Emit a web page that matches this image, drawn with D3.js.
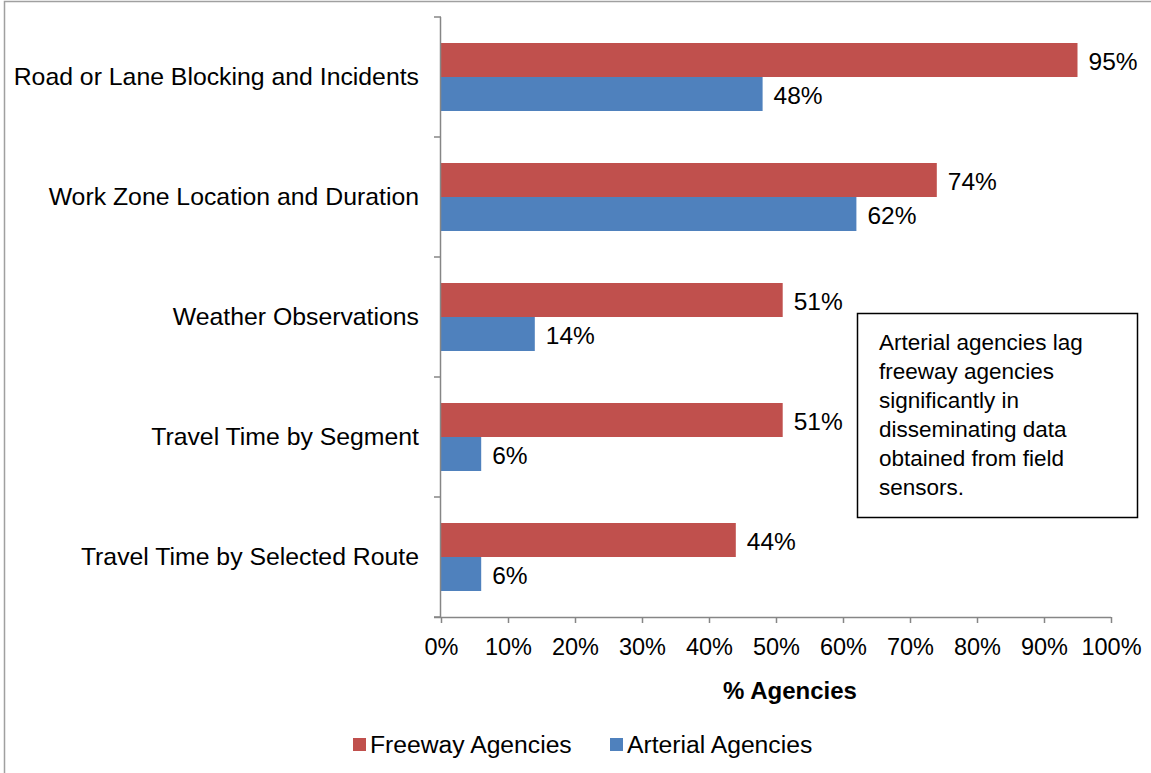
<!DOCTYPE html>
<html>
<head>
<meta charset="utf-8">
<script src="https://cdn.jsdelivr.net/npm/d3@7"></script>
<style>
  body { margin: 0; background: #fff; }
  svg { display: block; font-family: Arial, "Liberation Sans", sans-serif; }
  .axis path, .axis line { stroke: #868686; }
</style>
</head>
<body>
<svg width="1151" height="773"></svg>
<script>
(function() {

  var categories = [
    "Road or Lane Blocking and Incidents",
    "Work Zone Location and Duration",
    "Weather Observations",
    "Travel Time by Segment",
    "Travel Time by Selected Route"
  ];
  var seriesNames = ["Freeway Agencies", "Arterial Agencies"];
  var freeway = [95, 74, 51, 51, 44];
  var arterial = [48, 62, 14, 6, 6];
  var xTicks = [0, 10, 20, 30, 40, 50, 60, 70, 80, 90, 100];
  var noteLines = [
    "Arterial agencies lag",
    "freeway agencies",
    "significantly in",
    "disseminating data",
    "obtained from field",
    "sensors."
  ];

  var colors = { "Freeway Agencies": "#C0504D", "Arterial Agencies": "#4F81BD" };

  var margin = { top: 17, right: 40, bottom: 156, left: 441 },
      chartWidth = 1111 - margin.left,
      chartHeight = 617 - margin.top;

  var svg = d3.select("svg");

  // outer chart border
  svg.append("rect")
    .attr("x", 4.5).attr("y", 1.5)
    .attr("width", 1160).attr("height", 790)
    .attr("fill", "none")
    .attr("stroke", "#a0a0a0")
    .attr("stroke-width", 1.5);

  var chart = svg.append("g")
    .attr("transform", "translate(" + margin.left + "," + margin.top + ")");

  var xScale = d3.scaleLinear().domain([0, 100]).range([0, chartWidth]);

  var yScale = d3.scaleBand()
    .domain(categories)
    .range([0, chartHeight]);

  var inner = d3.scaleBand()
    .domain(seriesNames)
    .range([26, yScale.bandwidth() - 26]);

  var rows = categories.map(function(c, i) {
    return { cat: c, values: [
      { name: seriesNames[0], v: freeway[i] },
      { name: seriesNames[1], v: arterial[i] }
    ]};
  });

  var groups = chart.selectAll(".row")
    .data(rows)
    .enter().append("g")
      .attr("class", "row")
      .attr("transform", function(d) { return "translate(0," + yScale(d.cat) + ")"; });

  groups.selectAll("rect")
    .data(function(d) { return d.values; })
    .enter().append("rect")
      .attr("x", 0)
      .attr("y", function(d) { return inner(d.name); })
      .attr("width", function(d) { return xScale(d.v); })
      .attr("height", inner.bandwidth())
      .attr("fill", function(d) { return colors[d.name]; });

  groups.selectAll(".val")
    .data(function(d) { return d.values; })
    .enter().append("text")
      .attr("class", "val")
      .attr("x", function(d) { return xScale(d.v) + 11; })
      .attr("y", function(d) { return inner(d.name) + inner.bandwidth() / 2 + 1.5; })
      .attr("dy", "0.35em")
      .attr("font-size", 24.5)
      .attr("fill", "#000")
      .text(function(d) { return d.v + "%"; });

  // y axis
  var yAxis = chart.append("g")
    .attr("class", "axis")
    .call(d3.axisLeft(yScale).tickSize(0).tickPadding(22));
  yAxis.select(".domain").remove();
  yAxis.selectAll("text").attr("font-size", 24.8).attr("fill", "#000");

  chart.append("line")
    .attr("x1", -0.5).attr("x2", -0.5)
    .attr("y1", 0).attr("y2", chartHeight)
    .attr("stroke", "#868686").attr("stroke-width", 1.5);

  chart.selectAll(".ytick")
    .data(categories.concat([null]))
    .enter().append("line")
      .attr("class", "ytick")
      .attr("x1", -7).attr("x2", 0)
      .attr("y1", function(d, i) { return i * yScale.step(); })
      .attr("y2", function(d, i) { return i * yScale.step(); })
      .attr("stroke", "#868686").attr("stroke-width", 1.5);

  // x axis
  var xAxis = chart.append("g")
    .attr("class", "axis")
    .attr("transform", "translate(0," + chartHeight + ")")
    .call(d3.axisBottom(xScale)
      .tickValues(xTicks)
      .tickSize(6)
      .tickSizeOuter(0)
      .tickPadding(15)
      .tickFormat(function(d) { return d + "%"; }));
  xAxis.select(".domain")
    .attr("d", "M-7,0.5H" + chartWidth)
    .attr("stroke-width", 1.5);
  xAxis.selectAll("line").attr("stroke-width", 1.5);
  xAxis.selectAll("text").attr("font-size", 23.5).attr("fill", "#000");

  chart.append("text")
    .attr("x", chartWidth / 2 + 14)
    .attr("y", chartHeight + 82)
    .attr("text-anchor", "middle")
    .attr("font-size", 24)
    .attr("font-weight", "bold")
    .text("% Agencies");

  // legend
  var legendX = [353, 610];
  var legend = svg.selectAll(".legend")
    .data(seriesNames)
    .enter().append("g")
      .attr("class", "legend")
      .attr("transform", function(d, i) { return "translate(" + legendX[i] + ",738)"; });
  legend.append("rect")
    .attr("width", 13).attr("height", 13)
    .attr("fill", function(d) { return colors[d]; });
  legend.append("text")
    .attr("x", 17).attr("y", 6.5)
    .attr("dy", "0.35em")
    .attr("font-size", 24.7)
    .text(function(d) { return d; });

  // annotation
  svg.append("rect")
    .attr("x", 857.5).attr("y", 313.5)
    .attr("width", 280).attr("height", 204)
    .attr("fill", "#fff")
    .attr("stroke", "#000")
    .attr("stroke-width", 1.5);
  svg.append("text")
    .attr("font-size", 22.5)
    .selectAll("tspan")
    .data(noteLines)
    .enter().append("tspan")
      .attr("x", 879)
      .attr("y", function(d, i) { return 350 + i * 29; })
      .text(function(d) { return d; });

})();
</script>
</body>
</html>
